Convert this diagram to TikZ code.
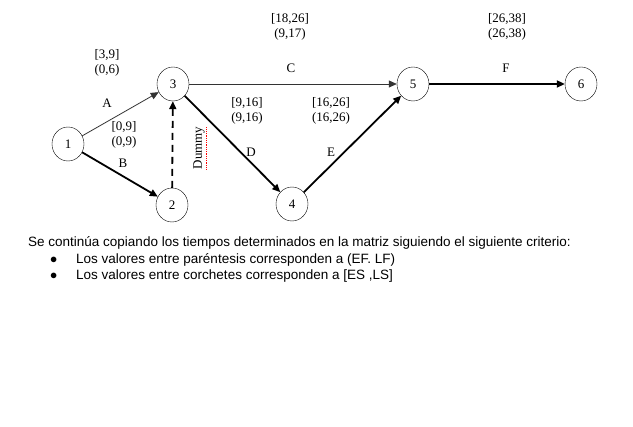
\documentclass[tikz,border=0pt]{standalone}
\usepackage{fontspec}
\setmainfont{Liberation Serif}
\newfontfamily\arialfont{Liberation Sans}
\usetikzlibrary{arrows.meta,shapes.geometric}
\begin{document}
\begin{tikzpicture}[x=1pt,y=-1pt,
  ev/.style={draw,ellipse,minimum width=32pt,minimum height=34pt,inner sep=0pt,font=\fontsize{13}{14}\selectfont},
  lbl/.style={font=\fontsize{13}{15}\selectfont,inner sep=0pt,align=center},
  thin arc/.style={draw=black!80,line width=0.8pt,-{Triangle[length=8pt,width=7pt]}},
  thick arc/.style={draw,line width=1.8pt,-{Triangle[length=8pt,width=7pt]}},
  fat arc/.style={draw,line width=2.6pt,-{Triangle[length=8pt,width=7pt]}},
  body/.style={font=\arialfont\fontsize{13.5}{15}\selectfont,anchor=west,inner sep=0pt}]
\useasboundingbox (0,0) rectangle (633,427);
\node[ev] (n1) at (68,144) {1};
\node[ev] (n3) at (173,84) {3};
\node[ev] (n2) at (172,205) {2};
\node[ev] (n4) at (292,204) {4};
\node[ev] (n5) at (413,84) {5};
\node[ev] (n6) at (581,84) {6};
\draw[thin arc] (n1) -- (n3);
\draw[thick arc] (n1) -- (n2);
\draw[thick arc,dashed,dash pattern=on 7pt off 5pt] (n2) -- (n3);
\draw[thin arc] (n3) -- (n5);
\draw[thick arc] (n3) -- (n4);
\draw[thick arc] (n4) -- (n5);
\draw[fat arc] (n5) -- (n6);
\node[lbl] (t1) at (107,63) {[3,9]\\(0,6)};
\node[lbl] (t2) at (124,135) {[0,9]\\(0,9)};
\node[lbl] (la) at (107,103) {A};
\node[lbl] (lb) at (123,163) {B};
\node[lbl] (lc) at (291,68) {C};
\node[lbl] (t3) at (290,27) {[18,26]\\(9,17)};
\node[lbl] (t4) at (247,111) {[9,16]\\(9,16)};
\node[lbl] (t5) at (331,111) {[16,26]\\(16,26)};
\node[lbl] (ld) at (251,152) {D};
\node[lbl] (le) at (331,152) {E};
\node[lbl] (lf) at (506,68) {F};
\node[lbl] (t6) at (507,27) {[26,38]\\(26,38)};
\node[lbl,rotate=90] (dm) at (199,148) {Dummy};
\draw[red,densely dotted,line width=0.8pt] ([xshift=1.5pt]dm.south west) -- ([xshift=1.5pt]dm.south east);
\node[body] (p0) at (28,243) {Se continúa copiando los tiempos determinados en la matriz siguiendo el siguiente criterio:};
\node[body] (b1) at (50,260) {$\bullet$};
\node[body] (p1) at (76,260) {Los valores entre paréntesis corresponden a (EF. LF)};
\node[body] (b2) at (50,276) {$\bullet$};
\node[body] (p2) at (76,276) {Los valores entre corchetes corresponden a [ES ,LS]};
\end{tikzpicture}
\end{document}
